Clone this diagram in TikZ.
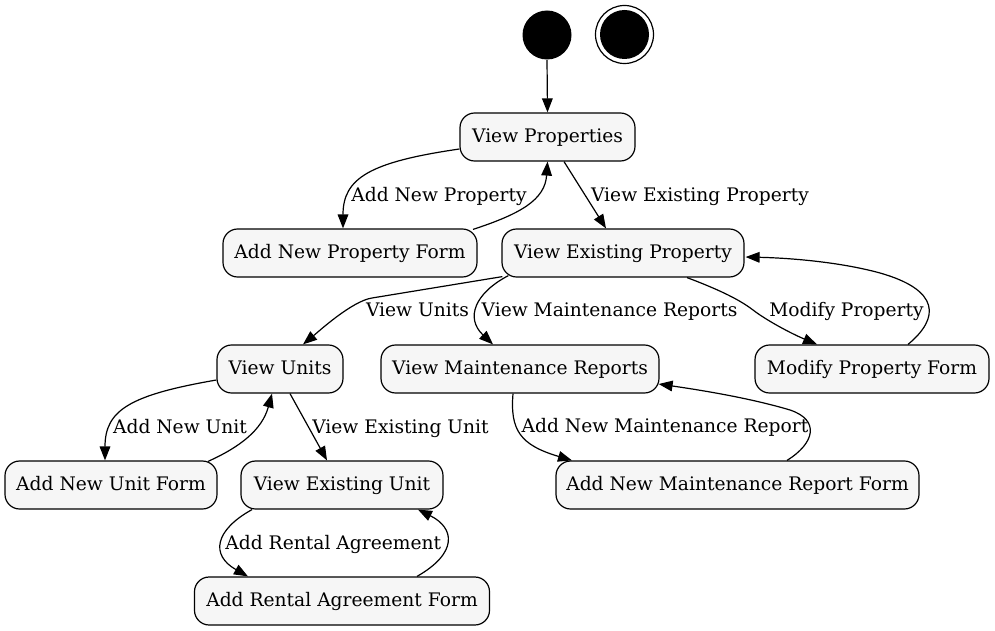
\documentclass[tikz,border=0pt]{standalone}
\usepackage{fontspec}
\setmainfont{DejaVu Serif}
\usetikzlibrary{arrows.meta,calc}
\definecolor{nodefill}{HTML}{F6F6F6}
\begin{document}
\begin{tikzpicture}[x=0.75pt,y=-0.75pt,
  state/.style={draw=black,line width=0.9pt,fill=nodefill,rounded corners=11pt,minimum height=36pt,inner sep=0pt,font=\fontsize{14}{17}\selectfont,text height=10.5pt,text depth=2.2pt},
  lbl/.style={inner sep=0pt,font=\fontsize{14}{17}\selectfont,text height=10.5pt,text depth=2.2pt},
  edge/.style={draw=black,line width=0.9pt,-{Triangle[length=10.5pt,width=8pt]}},
  dot/.style={circle,fill=black,minimum size=36.75pt,inner sep=0pt}
  ]
\useasboundingbox (0,0) rectangle (995,631);
% start / final
\node[dot] (start) at (547,35) {};
\node[circle,draw=black,line width=0.9pt,fill=white,minimum size=43.5pt,inner sep=0pt] (final) at (624.5,34.5) {};
\node[dot] (finalin) at (final.center) {};
% states
\node[state,minimum width=131.25pt] (vp) at (547.5,137) {View Properties};
\node[state,minimum width=190.5pt] (anpf) at (350,253) {Add New Property Form};
\node[state,minimum width=181.5pt] (vep) at (623,253) {View Existing Property};
\node[state,minimum width=94.5pt] (vu) at (280,369) {View Units};
\node[state,minimum width=208.5pt] (vmr) at (520,369) {View Maintenance Reports};
\node[state,minimum width=175.5pt] (mpf) at (872,369) {Modify Property Form};
\node[state,minimum width=159pt] (anuf) at (111,485) {Add New Unit Form};
\node[state,minimum width=151.5pt] (veu) at (342,485) {View Existing Unit};
\node[state,minimum width=272.25pt] (anmrf) at (737.5,485) {Add New Maintenance Report Form};
\node[state,minimum width=221.25pt] (raf) at (342,601) {Add Rental Agreement Form};
% edges
\draw[edge] (start.south) -- (vp.north);
\draw[edge] ($(vp.west)+(0,12)$) .. controls (370,162) and (343,178) .. ($(anpf.north)+(-7,0)$);
\draw[edge] ($(anpf.north)+(123,1)$) .. controls (520,214) and (545,200) .. (vp.south);
\draw[edge] ($(vp.south)+(16.5,0)$) -- ($(vep.north)+(-17,0)$);
\draw[edge] ($(vep.south west)+(1,-1)$) -- (372,298) .. controls (352,301) and (318,332) .. ($(vu.north)+(23,0)$);
\draw[edge] ($(vep.south west)+(7,-2)$) .. controls (475,293) and (465,318) .. ($(vmr.north)+(-27,0)$);
\draw[edge] ($(vep.south)+(64,0)$) .. controls (720,290) and (740,300) .. (753,310) .. controls (766,320) and (790,333) .. ($(mpf.north)+(-55,0)$);
\draw[edge] ($(mpf.north)+(36,0)$) .. controls (940,318) and (940,290) .. (880,273) .. controls (840,262) and (790,258) .. ($(vep.east)+(1,4)$);
\draw[edge] ($(vu.west)+(0,11)$) .. controls (130,395) and (105,410) .. ($(anuf.north)+(-6,0)$);
\draw[edge] ($(anuf.north)+(97,1)$) .. controls (240,447) and (262,430) .. ($(vu.south)+(-8,0)$);
\draw[edge] ($(vu.south)+(10,0)$) -- ($(veu.north)+(-15,0)$);
\draw[edge] ($(veu.south)+(-90,0)$) .. controls (215,530) and (210,555) .. ($(raf.north)+(-94,0)$);
\draw[edge] ($(raf.north)+(75,0)$) .. controls (458,553) and (455,528) .. ($(veu.south)+(76,0)$);
\draw[edge] ($(vmr.south)+(-7,0)$) .. controls (510,430) and (520,445) .. ($(anmrf.north)+(-165.5,0)$);
\draw[edge] ($(anmrf.north)+(49.5,0)$) .. controls (815,443) and (820,420) .. (790,410) .. controls (750,398) and (700,390) .. ($(vmr.east)+(-1,15)$);
% labels
\node[lbl] (l1) at (439,196) {Add New Property};
\node[lbl] (l2) at (700,196) {View Existing Property};
\node[lbl] (l3) at (417.5,311) {View Units};
\node[lbl] (l4) at (609.5,311) {View Maintenance Reports};
\node[lbl] (l5) at (846.5,311) {Modify Property};
\node[lbl] (l6) at (180,427.5) {Add New Unit};
\node[lbl] (l7) at (400.5,427.5) {View Existing Unit};
\node[lbl] (l8) at (665,427) {Add New Maintenance Report};
\node[lbl] (l9) at (333.3,544) {Add Rental Agreement};
\end{tikzpicture}
\end{document}
